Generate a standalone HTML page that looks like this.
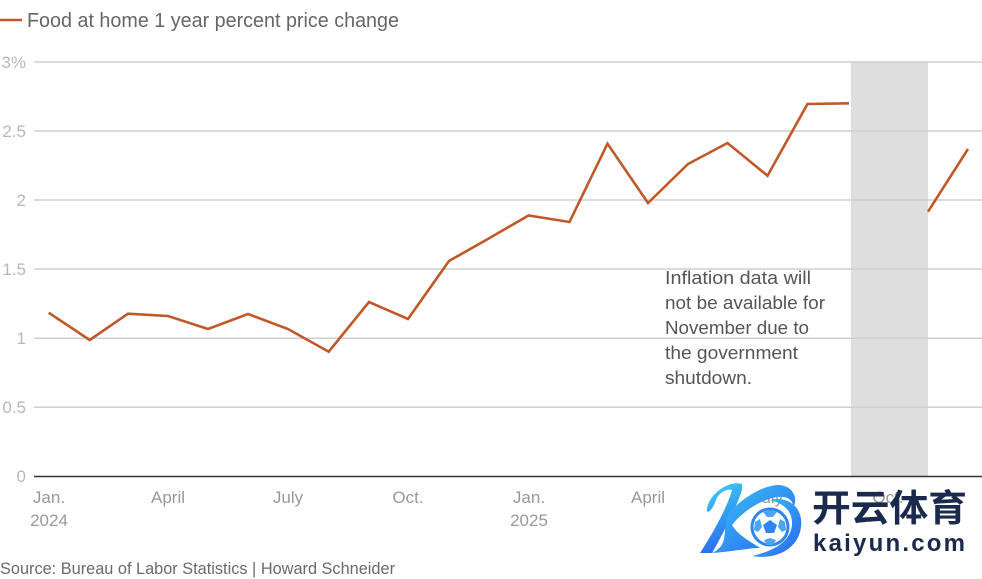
<!DOCTYPE html>
<html><head><meta charset="utf-8"><style>
html,body{margin:0;padding:0;background:#fff;}
svg{display:block;}
</style></head><body>
<svg width="982" height="579" viewBox="0 0 982 579" xmlns="http://www.w3.org/2000/svg" font-family="Liberation Sans, sans-serif">
<defs>
<linearGradient id="kg" x1="0" y1="0" x2="0.3" y2="1">
<stop offset="0" stop-color="#3fd6f5"/>
<stop offset="1" stop-color="#2a6df0"/>
</linearGradient>
<linearGradient id="kg2" x1="0" y1="0" x2="1" y2="1">
<stop offset="0" stop-color="#38c8f6"/>
<stop offset="1" stop-color="#2b62ee"/>
</linearGradient>
</defs>
<rect width="982" height="579" fill="#fff"/>
<!-- legend -->
<line x1="0" y1="20" x2="22" y2="20" stroke="#c0582a" stroke-width="2.5"/>
<text x="27" y="27" font-size="20" fill="#666" textLength="372" lengthAdjust="spacingAndGlyphs">Food at home 1 year percent price change</text>
<!-- shaded region -->
<rect x="851" y="62" width="77" height="414" fill="#dedede"/>
<!-- gridlines -->
<g stroke="#cfcfcf" stroke-width="1.5">
<line x1="34" y1="62" x2="982" y2="62"/>
<line x1="34" y1="131" x2="982" y2="131"/>
<line x1="34" y1="200" x2="982" y2="200"/>
<line x1="34" y1="269" x2="982" y2="269"/>
<line x1="34" y1="338.3" x2="982" y2="338.3"/>
<line x1="34" y1="407.3" x2="982" y2="407.3"/>
</g>
<line x1="34" y1="476.5" x2="982" y2="476.5" stroke="#333" stroke-width="1.5"/>
<!-- y labels -->
<g font-size="17" fill="#b8b8b8" text-anchor="end">
<text x="26" y="68">3%</text>
<text x="26" y="137">2.5</text>
<text x="26" y="206">2</text>
<text x="26" y="275">1.5</text>
<text x="26" y="344">1</text>
<text x="26" y="413">0.5</text>
<text x="26" y="482">0</text>
</g>
<!-- x labels -->
<g font-size="17" fill="#999" text-anchor="middle">
<text x="49" y="503">Jan.</text>
<text x="49" y="526">2024</text>
<text x="168" y="503">April</text>
<text x="288" y="503">July</text>
<text x="408" y="503">Oct.</text>
<text x="529" y="503">Jan.</text>
<text x="529" y="526">2025</text>
<text x="648" y="503">April</text>
<text x="768" y="503">July</text>
<text x="888" y="503">Oct.</text>
</g>
<!-- series -->
<polyline fill="none" stroke="#c0582a" stroke-width="2.6" stroke-linejoin="miter" points="48.7,312.7 89.7,340 128,313.7 168,316 208,329 248,314 288,329 328.7,351.7 369,302 408,319 449,261 488.5,238.6 528.5,215.5 569.5,222 607.5,143.7 648,203 688,164 727.5,143 767.5,175.7 807.5,104 849,103.3"/>
<polyline fill="none" stroke="#c0582a" stroke-width="2.6" points="928,211.7 968,149"/>
<!-- annotation -->
<g font-size="18" fill="#555">
<text x="665" y="284" textLength="146" lengthAdjust="spacingAndGlyphs">Inflation data will</text>
<text x="665" y="309" textLength="160" lengthAdjust="spacingAndGlyphs">not be available for</text>
<text x="665" y="334" textLength="144" lengthAdjust="spacingAndGlyphs">November due to</text>
<text x="665" y="359" textLength="133" lengthAdjust="spacingAndGlyphs">the government</text>
<text x="665" y="384" textLength="87" lengthAdjust="spacingAndGlyphs">shutdown.</text>
</g>
<!-- source -->
<text x="0" y="574" font-size="16.5" fill="#6a6a6a" textLength="395" lengthAdjust="spacingAndGlyphs">Source: Bureau of Labor Statistics | Howard Schneider</text>
<!-- watermark -->
<g>
<path d="M742,484 C730,480 712,492 708,505 C704,517 712,512 716,500 C718,494 726,488 732,490 C728,505 715,530 700,553 L712,553 C724,532 736,508 742,490 Z" fill="url(#kg)"/>
<path d="M712,553 C730,552 748,548 760,548 C748,540 738,535 732,525 C742,512 758,502 772,498 C786,494 796,500 792,510 C800,498 792,485 778,485 C760,486 740,500 728,514 C722,530 730,545 712,553 Z" fill="url(#kg2)"/>
<path d="M770,500 C790,495 806,510 800,532 C795,550 775,560 752,556 C768,552 790,545 792,525 C793,510 782,503 770,500 Z" fill="url(#kg2)"/>
<circle cx="770" cy="527" r="18" fill="#fff" stroke="#2f86f0" stroke-width="3"/>
<polygon points="770,520 777,525 774,533 766,533 763,525" fill="#2f86f0"/>
<polygon points="770,510 777,512 773,517 767,517 763,512" fill="#4aa6f4"/>
<polygon points="755,522 760,519 762,527 758,532 754,530" fill="#4aa6f4"/>
<polygon points="785,522 780,519 778,527 782,532 786,530" fill="#4aa6f4"/>
<polygon points="764,540 770,538 776,540 773,545 767,545" fill="#4aa6f4"/>
<text x="812" y="521" font-family="Noto Sans CJK SC, sans-serif" font-weight="bold" font-size="37" fill="#1b2a4c" textLength="155" lengthAdjust="spacingAndGlyphs">开云体育</text>
<text x="813" y="551" font-family="Liberation Sans, sans-serif" font-weight="bold" font-size="24" fill="#1b2a4c" textLength="152" lengthAdjust="spacing">kaiyun.com</text>
</g>
</svg>
</body></html>
